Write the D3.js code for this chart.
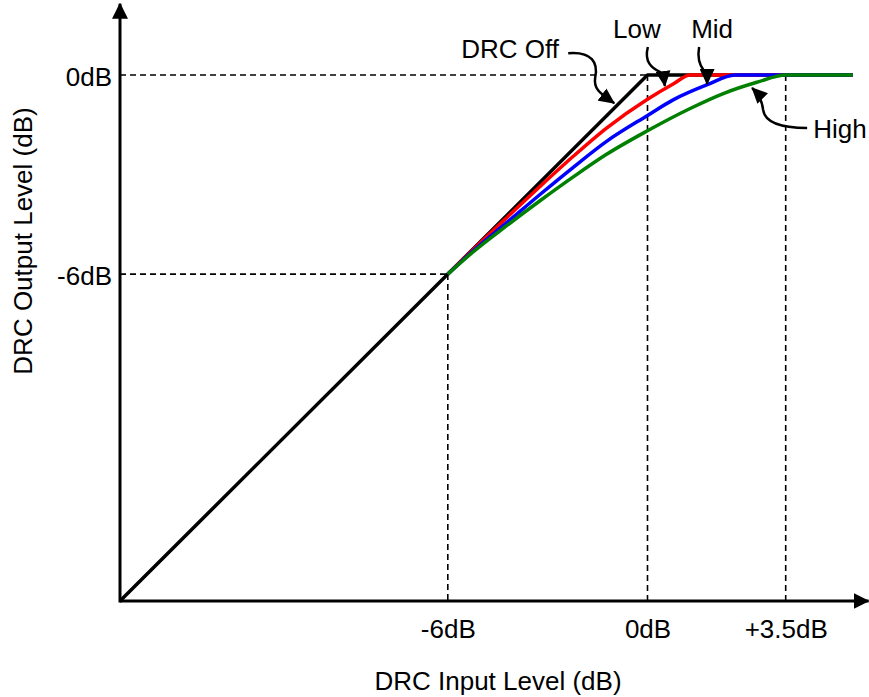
<!DOCTYPE html>
<html>
<head>
<meta charset="utf-8">
<script src="https://cdn.jsdelivr.net/npm/d3@7"></script>
<style>
  body { margin: 0; background: #fff; }
  svg { display: block; font-family: "Liberation Sans", Arial, sans-serif; }
</style>
</head>
<body>
<div id="chart"></div>
<script>
// DRC transfer curves: input level (dB) -> output level (dB)
const offIn = [-15.85, 0, 5.2];
const offOut = [-15.85, 0, 0];
const lowIn = [-6, -5.24, -4.23, -3.23, -2.23, -1.23, 0, 0.65, 1.08, 5.2];
const lowOut = [-6, -5.26, -4.3, -3.36, -2.45, -1.6, -0.73, -0.27, 0, 0];
const midIn = [-6, -5.24, -4.23, -3.23, -2.23, -1.23, 0, 0.65, 1.5, 2.22, 5.2];
const midOut = [-6, -5.3, -4.45, -3.6, -2.78, -2.0, -1.22, -0.75, -0.3, 0, 0];
const highIn = [-6, -5.24, -4.23, -3.23, -2.23, -1.23, 0, 1.08, 1.92, 2.77, 3.5, 5.2];
const highOut = [-6, -5.33, -4.54, -3.79, -3.07, -2.39, -1.68, -1.01, -0.56, -0.22, 0, 0];

const xTicks = [-6, 0, 3.5];
const xTickLabels = ["-6dB", "0dB", "+3.5dB"];
const yTicks = [0, -6];
const yTickLabels = ["0dB", "-6dB"];

const seriesNames = ["DRC Off", "Low", "Mid", "High"];
const seriesColors = ["#000000", "#ff0000", "#0000ff", "#008000"];

const width = 869, height = 697;
const fontSize = 26;

// 軸的原點與刻度 (示意圖, +3.5dB 段比例不同)
const x = d3.scaleLinear().domain([-15.85, 0, 3.5]).range([120, 647.5, 785.7]);
const y = d3.scaleLinear().domain([-15.85, 0]).range([601, 75]);
const xMin = -15.85, xMax = 5.6, yMin = -15.85, yMax = 2.15;

const svg = d3.select("#chart").append("svg")
    .attr("width", width)
    .attr("height", height);

const defs = svg.append("defs");
defs.append("marker")
    .attr("id", "axisHead")
    .attr("markerUnits", "userSpaceOnUse")
    .attr("viewBox", "0 0 16 16")
    .attr("markerWidth", 16).attr("markerHeight", 16)
    .attr("refX", 15).attr("refY", 8)
    .attr("orient", "auto")
    .append("path").attr("d", "M0,0L16,8L0,16Z").attr("fill", "#000");
defs.append("marker")
    .attr("id", "noteHead")
    .attr("markerUnits", "userSpaceOnUse")
    .attr("viewBox", "0 0 16 15")
    .attr("markerWidth", 16).attr("markerHeight", 15)
    .attr("refX", 15).attr("refY", 7.5)
    .attr("orient", "auto")
    .append("path").attr("d", "M0,0L16,7.5L0,15Z").attr("fill", "#000");

// dashed guide lines
svg.append("g").selectAll("line")
    .data(xTicks)
    .enter().append("line")
    .attr("x1", d => x(d)).attr("x2", d => x(d))
    .attr("y1", d => y(Math.min(d, 0))).attr("y2", y(yMin))
    .attr("stroke", "#000").attr("stroke-width", 1.6)
    .attr("stroke-dasharray", "6,4");
svg.append("g").selectAll("line")
    .data(yTicks)
    .enter().append("line")
    .attr("x1", x(xMin)).attr("x2", d => x(d))
    .attr("y1", d => y(d)).attr("y2", d => y(d))
    .attr("stroke", "#000").attr("stroke-width", 1.6)
    .attr("stroke-dasharray", "6,4");

// curves
const series = [
    {name: seriesNames[0], pts: d3.zip(offIn, offOut), curve: d3.curveLinear},
    {name: seriesNames[1], pts: d3.zip(lowIn, lowOut), curve: d3.curveMonotoneX},
    {name: seriesNames[2], pts: d3.zip(midIn, midOut), curve: d3.curveMonotoneX},
    {name: seriesNames[3], pts: d3.zip(highIn, highOut), curve: d3.curveMonotoneX}
];

svg.append("g").selectAll("path")
    .data(series)
    .enter().append("path")
    .attr("d", s => d3.line().x(d => x(d[0])).y(d => y(d[1])).curve(s.curve)(s.pts))
    .attr("fill", "none")
    .attr("stroke", (s, i) => seriesColors[i])
    .attr("stroke-width", 3.5)
    .attr("stroke-linejoin", "round");

// axes lines with arrows
svg.append("line")
    .attr("x1", x(xMin)).attr("y1", y(yMin))
    .attr("x2", x(xMax)).attr("y2", y(yMin))
    .attr("stroke", "#000").attr("stroke-width", 3)
    .attr("marker-end", "url(#axisHead)");
svg.append("line")
    .attr("x1", x(xMin)).attr("y1", y(yMin) + 1.5)
    .attr("x2", x(xMin)).attr("y2", y(yMax))
    .attr("stroke", "#000").attr("stroke-width", 3)
    .attr("marker-end", "url(#axisHead)");

// tick labels
svg.append("g")
    .attr("transform", `translate(0,${y(yMin)})`)
    .call(d3.axisBottom(x).tickValues(xTicks)
        .tickFormat((d, i) => xTickLabels[i]).tickSize(0).tickPadding(19))
    .call(g => g.select(".domain").remove())
    .selectAll("text")
    .attr("font-size", fontSize).attr("font-family", "Liberation Sans, Arial, sans-serif").attr("fill", "#000");

svg.append("g")
    .attr("transform", `translate(${x(xMin)},0)`)
    .call(d3.axisLeft(y).tickValues(yTicks)
        .tickFormat((d, i) => yTickLabels[i]).tickSize(0).tickPadding(8))
    .call(g => g.select(".domain").remove())
    .selectAll("text")
    .attr("dy", "0.4em")
    .attr("font-size", fontSize).attr("font-family", "Liberation Sans, Arial, sans-serif").attr("fill", "#000");

// axis titles
svg.append("text")
    .attr("x", 498).attr("y", 690)
    .attr("text-anchor", "middle")
    .attr("font-size", fontSize)
    .text("DRC Input Level (dB)");
svg.append("text")
    .attr("transform", "translate(32,241) rotate(-90)")
    .attr("text-anchor", "middle")
    .attr("font-size", fontSize)
    .text("DRC Output Level (dB)");

// annotations: arrow tip in data units, path and label as pixel offsets from the tip
const notes = [
    {at: [-1.0, -0.85], anchor: "start", label: [-153, -45],
     path: [[-46, -50], [-22, -52], [-16, -40], [-19, -26], [-21, -14], [-14, -10], [0, 0]]},
    {at: [0.44, -0.33], anchor: "middle", label: [-28, -48],
     path: [[-17, -39], [-21, -24], [-13, -18], [-5, -14], [-2, -12], [-1, -8], [0, 0]]},
    {at: [1.51, -0.27], anchor: "middle", label: [5, -46],
     path: [[-8, -37], [-10, -26], [-7, -18], [-3, -13], [-1, -11], [0, -8], [0, 0]]},
    {at: [2.65, -0.39], anchor: "start", label: [61, 50],
     path: [[55, 40], [33, 40], [13, 36], [11, 22], [10, 12], [6, 6], [0, 0]]}
];

const noteG = svg.append("g").selectAll("g")
    .data(notes)
    .enter().append("g")
    .attr("transform", d => `translate(${x(d.at[0])},${y(d.at[1])})`);

noteG.append("path")
    .attr("d", d => {
        const p = d.path;
        return `M${p[0]}C${p[1]} ${p[2]} ${p[3]}C${p[4]} ${p[5]} ${p[6]}`;
    })
    .attr("fill", "none")
    .attr("stroke", "#000")
    .attr("stroke-width", 2.5)
    .attr("marker-end", "url(#noteHead)");

noteG.append("text")
    .attr("x", d => d.label[0]).attr("y", d => d.label[1])
    .attr("text-anchor", d => d.anchor)
    .attr("font-size", fontSize)
    .text((d, i) => seriesNames[i]);
</script>
</body>
</html>
